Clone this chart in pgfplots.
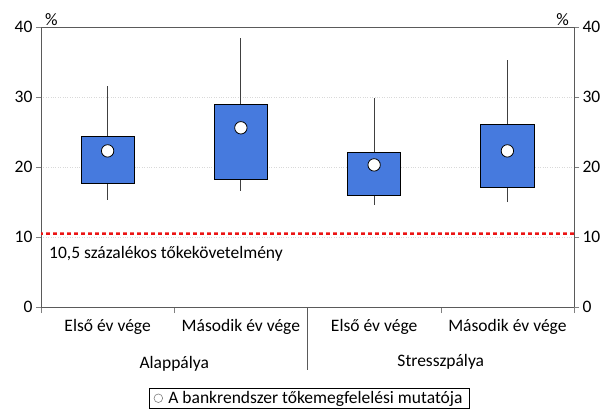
\documentclass[border=0pt]{standalone}
\usepackage{pgfplots}
\pgfplotsset{compat=1.18}
\usetikzlibrary{patterns.meta}
\usepackage{fontspec}
\setmainfont{Carlito}

\definecolor{boxblue}{RGB}{70,122,222}
\definecolor{whisk}{RGB}{64,64,64}
\definecolor{axgray}{RGB}{90,90,90}
\definecolor{reqred}{RGB}{235,20,20}

\begin{document}
\begin{tikzpicture}[font=\fontsize{17.5}{20}\selectfont]
\begin{axis}[
    scale only axis,
    width=533pt, height=280pt,
    xmin=-0.5, xmax=3.5, ymin=0, ymax=40,
    clip=false,
    /pgf/number format/assume math mode=true,
    axis line style={axgray},
    tick align=outside,
    ytick={0,10,20,30,40},
    ytick pos=both,
    yticklabel pos=left,
    major tick length=5pt,
    minor tick length=6pt,
    ymajorgrids,
    grid style={gray!30, dotted},
    xtick={0,1,2,3},
    xticklabels={Első év vége, Második év vége, Első év vége, Második év vége},
    major x tick style={draw=none},
    minor xtick={-0.5,0.5,1.5,2.5,3.5},
    xtick pos=left,
    x tick label style={yshift=-4pt},
    legend style={at={(0.503,-0.29)}, anchor=north, draw=black,
        inner xsep=5pt, inner ysep=1pt},
]
% whiskers: (x, lower whisker) (x, upper whisker)
\addplot[forget plot, whisk, line width=0.8pt] coordinates {(0,15.3) (0,31.6)};
\addplot[forget plot, whisk, line width=0.8pt] coordinates {(1,16.6) (1,38.4)};
\addplot[forget plot, whisk, line width=0.8pt] coordinates {(2,14.6) (2,29.9)};
\addplot[forget plot, whisk, line width=0.8pt] coordinates {(3,15.0) (3,35.3)};

% boxes: lower quartile to upper quartile, width 0.4
\addplot[forget plot, fill=boxblue, draw=black, line width=0.7pt]
    coordinates {(-0.2,17.6) (0.2,17.6) (0.2,24.4) (-0.2,24.4)} -- cycle;
\addplot[forget plot, fill=boxblue, draw=black, line width=0.7pt]
    coordinates {(0.8,18.3) (1.2,18.3) (1.2,29.0) (0.8,29.0)} -- cycle;
\addplot[forget plot, fill=boxblue, draw=black, line width=0.7pt]
    coordinates {(1.8,15.9) (2.2,15.9) (2.2,22.1) (1.8,22.1)} -- cycle;
\addplot[forget plot, fill=boxblue, draw=black, line width=0.7pt]
    coordinates {(2.8,17.1) (3.2,17.1) (3.2,26.1) (2.8,26.1)} -- cycle;

% capital requirement (10.5%): thin band filled with a dash pattern
\addplot[forget plot, draw=none, pattern color=reqred,
    pattern={Lines[angle=90, distance=6.5pt, line width=4pt]}]
    coordinates {(-0.5,10.39) (3.5,10.39) (3.5,10.61) (-0.5,10.61)} -- cycle;

% CAR
\addplot[only marks, mark=*, mark size=6.2pt,
    mark options={fill=white, draw=black, line width=0.8pt},
    legend image code/.code={\draw[gray, fill=white, line width=0.6pt] (0pt,0pt) circle (4.3pt);
        \path[draw=none, fill=none] (-4.3pt,0pt) -- (8pt,0pt);}]
    coordinates {(0,22.3) (1,25.6) (2,20.3) (3,22.3)};
\legend{A bankrendszer tőkemegfelelési mutatója}

\node[anchor=west] at (axis cs:-0.465,7.6) {10,5 százalékos tőkekövetelmény};
\node[anchor=south west, inner sep=1pt] at (rel axis cs:0,1) [xshift=3pt] {\%};
\node[anchor=south east, inner sep=1pt] at (rel axis cs:1,1) [xshift=-4pt] {\%};
\draw[axgray] (axis cs:1.5,0) -- ([yshift=-63pt]axis cs:1.5,0);
\node at (axis cs:0.5,0) [yshift=-57pt] {Alappálya};
\node at (axis cs:2.5,0) [yshift=-55pt] {Stresszpálya};
\path (rel axis cs:0,0) ++(-41pt,-110pt) rectangle ([shift={(34pt,27pt)}]rel axis cs:1,1);
\end{axis}
\begin{axis}[
    scale only axis,
    width=533pt, height=280pt,
    xmin=-0.5, xmax=3.5, ymin=0, ymax=40,
    /pgf/number format/assume math mode=true,
    axis y line*=right,
    axis x line=none,
    axis line style={axgray},
    tick align=outside,
    major tick length=5pt,
    ytick={0,10,20,30,40},
]
\addplot[draw=none, forget plot] coordinates {(0,0)};
\end{axis}
\end{tikzpicture}
\end{document}
